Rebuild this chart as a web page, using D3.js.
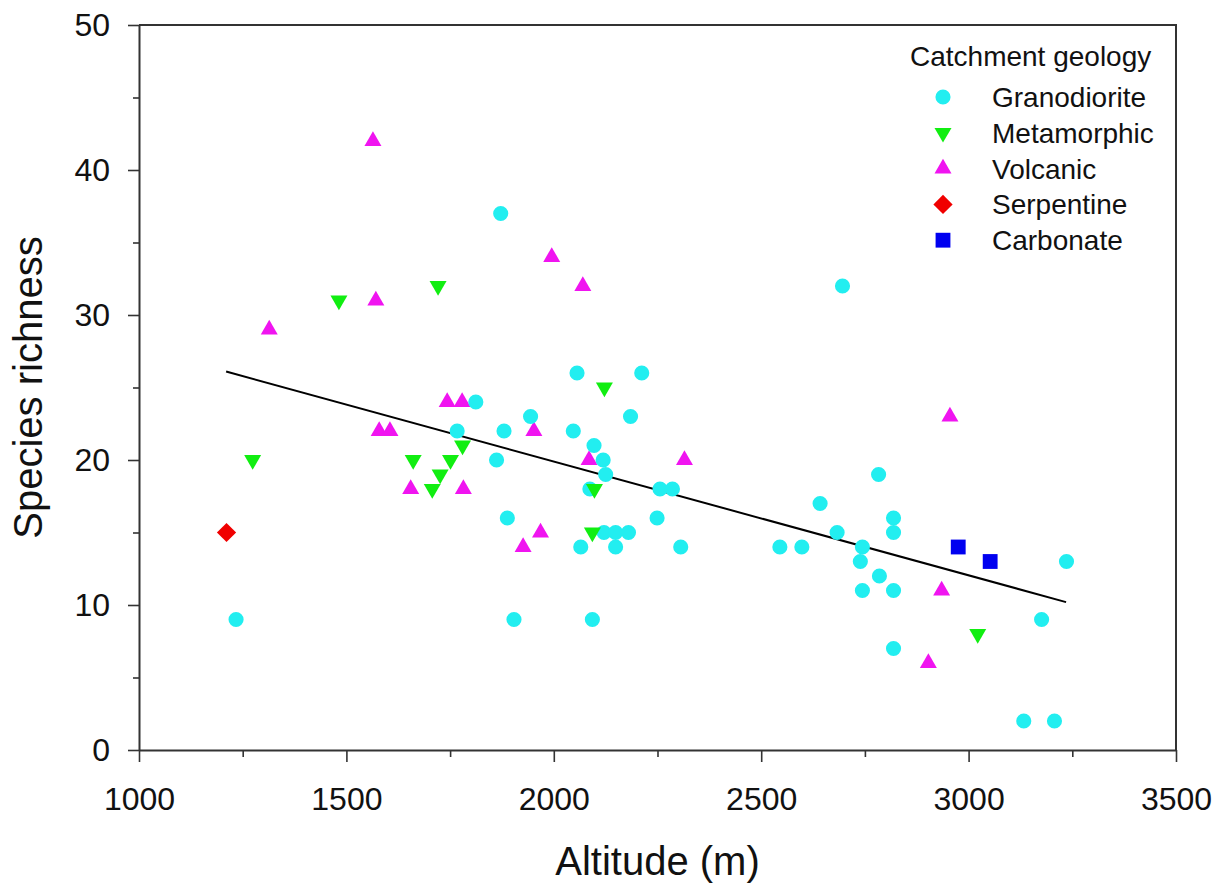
<!DOCTYPE html>
<html lang="en">
  <head>
    <meta charset="UTF-8" />
    <title>Species richness vs altitude</title>
    <script src="https://d3js.org/d3.v7.min.js"></script>
    <style>
      body { margin: 0; background: #fff; }
      text { font-family: "Liberation Sans", Arial, sans-serif; fill: #111; }
    </style>
  </head>
  <body>
    <svg width="1226" height="885" id="chart"></svg>

    <script>
      // Data: [altitude (m), species richness]
      const granodiorite = [
        [1234, 9], [1872, 37], [2696, 32], [1812, 24], [1767, 22], [1880, 22],
        [1944, 23], [1862, 20], [2047, 22], [2097, 21], [2119, 20], [2125, 19],
        [2087, 18], [1888, 16], [2065, 14], [2121, 15], [2149, 15], [2180, 15],
        [2149, 14], [1904, 9], [2093, 9], [2056, 26], [2185, 23], [2212, 26],
        [2256, 18], [2286, 18], [2249, 16], [2306, 14], [2545, 14], [2598, 14],
        [2642, 17], [2683, 15], [2744, 14], [2739, 13], [2785, 12], [2744, 11],
        [2819, 11], [2783, 19], [2819, 16], [2819, 15], [2819, 7], [3236, 13],
        [3176, 9], [3133, 2], [3207, 2]
      ];
      const metamorphic = [
        [1482, 31], [1721, 32], [1274, 20], [1661, 20], [1751, 20], [1726, 19],
        [1707, 18], [1780, 21], [2122, 25], [2098, 18], [2093, 15], [3022, 8]
      ];
      const volcanic = [
        [1564, 42], [1314, 29], [1571, 31], [1995, 34], [2070, 32], [1743, 24],
        [1779, 24], [1579, 22], [1605, 22], [1952, 22], [1655, 18], [1782, 18],
        [2085, 20], [1926, 14], [1968, 15], [2315, 20], [2955, 23], [2935, 11],
        [2903, 6]
      ];
      const serpentine = [[1211, 15]];
      const carbonate = [[2975, 14], [3052, 13]];

      // Fitted regression line, end points
      const fitLine = [[1210, 26.1], [3235, 10.2]];

      const xTicks = [1000, 1500, 2000, 2500, 3000, 3500];
      const xMinor = [1250, 1750, 2250, 2750, 3250];
      const yTicks = [0, 10, 20, 30, 40, 50];
      const yMinor = [5, 15, 25, 35, 45];

      const legendNames = ["Granodiorite", "Metamorphic", "Volcanic", "Serpentine", "Carbonate"];

      const svg = d3.select("#chart");
      const margin = { top: 25, right: 50, bottom: 135, left: 139 };
      const width = +svg.attr("width") - margin.left - margin.right;
      const height = +svg.attr("height") - margin.top - margin.bottom;
      const g = svg
        .append("g")
        .attr("transform", "translate(" + margin.left + "," + margin.top + ")");

      const xScale = d3.scaleLinear().domain([1000, 3500]).range([0, width]);
      const yScale = d3.scaleLinear().domain([0, 50]).range([height, 0]);

      const axisColor = "#333";

      // frame (top and right)
      g.append("path")
        .attr("d", "M0,0H" + xScale(3500) + "V" + yScale(0))
        .attr("fill", "none")
        .attr("stroke", axisColor)
        .attr("stroke-width", 2);

      // minor ticks
      g.append("g")
        .attr("transform", "translate(0," + height + ")")
        .call(d3.axisBottom(xScale).tickValues(xMinor).tickSize(7).tickFormat(""))
        .call((a) => a.select(".domain").remove());
      g.append("g")
        .call(d3.axisLeft(yScale).tickValues(yMinor).tickSize(6).tickFormat(""))
        .call((a) => a.select(".domain").remove());

      // major axes
      const xAxis = g.append("g")
        .attr("transform", "translate(0," + height + ")")
        .call(d3.axisBottom(xScale).tickValues(xTicks).tickFormat(d3.format("d"))
          .tickSize(12).tickSizeOuter(0).tickPadding(25));
      const yAxis = g.append("g")
        .call(d3.axisLeft(yScale).tickValues(yTicks).tickFormat(d3.format("d"))
          .tickSize(11).tickSizeOuter(0).tickPadding(18));

      g.selectAll(".tick line").attr("stroke", axisColor).attr("stroke-width", 1.6);
      [xAxis, yAxis].forEach((a) => {
        a.select(".domain").attr("stroke", axisColor).attr("stroke-width", 2);
        a.selectAll("text")
          .attr("font-family", '"Liberation Sans", Arial, sans-serif')
          .attr("font-size", 32)
          .attr("fill", "#111");
      });

      // regression line
      const line = d3.line()
        .x((d) => xScale(d[0]))
        .y((d) => yScale(d[1]));
      g.append("path")
        .datum(fitLine)
        .attr("d", line)
        .attr("fill", "none")
        .attr("stroke", "#000")
        .attr("stroke-width", 2);

      // point series
      const series = {
        Granodiorite: { data: granodiorite, type: d3.symbolCircle, size: 180, rotate: 0, color: "#22eef0" },
        Metamorphic: { data: metamorphic, type: d3.symbolTriangle, size: 125, rotate: 180, color: "#11ee11" },
        Volcanic: { data: volcanic, type: d3.symbolTriangle, size: 125, rotate: 0, color: "#f014f0" },
        Serpentine: { data: serpentine, type: d3.symbolSquare, size: 185, rotate: 45, color: "#f00000" },
        Carbonate: { data: carbonate, type: d3.symbolSquare, size: 220, rotate: 0, color: "#0000f0" }
      };

      const drawOrder = ["Volcanic", "Granodiorite", "Metamorphic", "Serpentine", "Carbonate"];
      drawOrder.forEach((name) => {
        const s = series[name];
        g.append("g")
          .selectAll("path")
          .data(s.data)
          .join("path")
          .attr("d", d3.symbol().type(s.type).size(s.size))
          .attr("transform", (d) =>
            "translate(" + xScale(d[0]) + "," + yScale(d[1]) + ") rotate(" + s.rotate + ")")
          .attr("fill", s.color);
      });

      // axis titles
      svg.append("text")
        .attr("x", margin.left + width / 2)
        .attr("y", 875)
        .attr("text-anchor", "middle")
        .attr("font-size", 40)
        .text("Altitude (m)");

      svg.append("text")
        .attr("transform", "translate(42," + (margin.top + height / 2) + ") rotate(-90)")
        .attr("text-anchor", "middle")
        .attr("font-size", 40)
        .text("Species richness");

      // legend
      const legend = svg.append("g").attr("transform", "translate(910,0)");
      legend.append("text")
        .attr("x", 0)
        .attr("y", 66)
        .attr("font-size", 28)
        .text("Catchment geology");

      const rows = legend.selectAll(".row")
        .data(legendNames)
        .join("g")
        .attr("class", "row")
        .attr("transform", (d, i) => "translate(0," + (97 + i * 35.8) + ")");
      rows.append("path")
        .attr("d", (d) => d3.symbol().type(series[d].type).size(series[d].size)())
        .attr("transform", (d) => "translate(33,0) rotate(" + series[d].rotate + ")")
        .attr("fill", (d) => series[d].color);
      rows.append("text")
        .attr("x", 82)
        .attr("y", 0)
        .attr("dy", "0.36em")
        .attr("font-size", 28)
        .text((d) => d);
    </script>
  </body>
</html>
